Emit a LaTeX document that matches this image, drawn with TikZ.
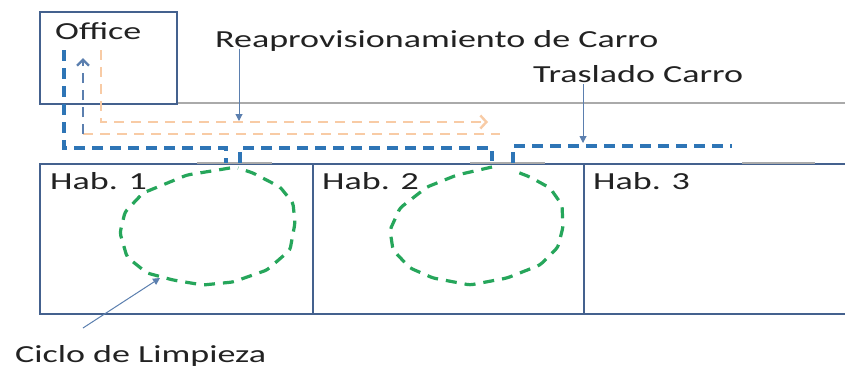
\documentclass[tikz,border=0pt]{standalone}
\usepackage{fontspec}
\setmainfont{Carlito}[FakeStretch=1.47]
\usetikzlibrary{arrows.meta}
\definecolor{boxblue}{RGB}{68,97,142}
\definecolor{corrgray}{RGB}{170,170,170}
\definecolor{cartblue}{RGB}{46,117,182}
\definecolor{supply}{RGB}{248,203,165}
\definecolor{cleangreen}{RGB}{38,166,91}
\definecolor{slate}{RGB}{91,127,175}
\definecolor{txt}{RGB}{34,34,34}
\begin{document}
\begin{tikzpicture}[x=1pt,y=-1pt,
  room/.style={draw=boxblue,line width=2.4pt,rectangle,inner sep=0pt,anchor=north west},
  lbl/.style={font=\fontsize{24.5}{28}\selectfont,text=txt,anchor=base west,inner sep=0pt},
  corr/.style={draw=corrgray,line width=2.2pt},
  cartpath/.style={draw=cartblue,line width=3.4pt,dash pattern=on 11pt off 7pt},
  supplypath/.style={draw=supply,line width=2.4pt,dash pattern=on 10pt off 7pt},
  returnpath/.style={draw=slate,line width=2.4pt,dash pattern=on 10pt off 7pt},
  cleanpath/.style={draw=cleangreen,line width=3.2pt,dash pattern=on 11pt off 8pt,rounded corners=3pt},
  pointer/.style={draw=slate,line width=1pt,-{Triangle[length=7pt,width=7pt]}}]
\clip (0,0) rectangle (845,367);
\fill[white] (0,0) rectangle (845,367);
% corridor top line
\draw[corr] (176,103) -- (845,103);
% office
\node[room,minimum width=137pt,minimum height=92pt] (office) at (39,11) {};
\node[lbl] (officet) at (55,39) {Office};
% rooms
\node[room,minimum width=273pt,minimum height=150pt] (hab1) at (39,163) {};
\node[room,minimum width=271pt,minimum height=150pt] (hab2) at (312,163) {};
\node[room,minimum width=300pt,minimum height=150pt] (hab3) at (583,163) {};
\draw[corr] (197,163) -- (272,163);
\draw[corr] (470,163) -- (545,163);
\draw[corr] (742,163) -- (815,163);
\node[lbl] (hab1t) at (50,189) {Hab. 1};
\node[lbl] (hab2t) at (322,189) {Hab. 2};
\node[lbl] (hab3t) at (593,189) {Hab. 3};
% supply path
\draw[supplypath,-{Straight Barb[length=6pt,width=13pt]}] (101,50) -- (101,122) -- (488,122);
\draw[supplypath] (83,134) -- (500,134);
\draw[returnpath,-{Straight Barb[length=6pt,width=12pt]}] (83,134) -- (83,58);
% cart path
\draw[cartpath] (64,50) -- (64,148) -- (226,148) -- (226,163);
\draw[cartpath] (240,163) -- (240,148) -- (492,148) -- (492,161);
\draw[cartpath] (513,163) -- (513,146) -- (732,146);
% cleaning loops
\draw[cleanpath] (230,168) -- (187,175) -- (143,193) -- (125,212) -- (120,233) -- (127,257) -- (147,273) -- (173,280) -- (203,285) -- (233,282) -- (267,270) -- (290,250) -- (295,223) -- (293,203) -- (280,187) -- (253,173) -- (238,168);
\draw[cleanpath] (492,167) -- (457,175) -- (427,187) -- (400,208) -- (390,230) -- (393,250) -- (410,268) -- (433,278) -- (470,285) -- (507,278) -- (540,265) -- (558,247) -- (563,227) -- (562,205) -- (550,188) -- (530,177) -- (512,170);
% labels
\node[lbl] (reap) at (215,47) {Reaprovisionamiento de Carro};
\node[lbl] (tras) at (533,82) {Traslado Carro};
\node[lbl] (ciclo) at (15,362) {Ciclo de Limpieza};
\coordinate (reapfrom) at (239,49);
\coordinate (reapto) at (239,121);
\coordinate (trasfrom) at (583,84);
\coordinate (trasto) at (583,143);
\coordinate (ciclofrom) at (83,328);
\coordinate (cicloto) at (160,278);
\draw[pointer] (reapfrom) -- (reapto);
\draw[pointer] (trasfrom) -- (trasto);
\draw[pointer] (ciclofrom) -- (cicloto);
\end{tikzpicture}
\end{document}
